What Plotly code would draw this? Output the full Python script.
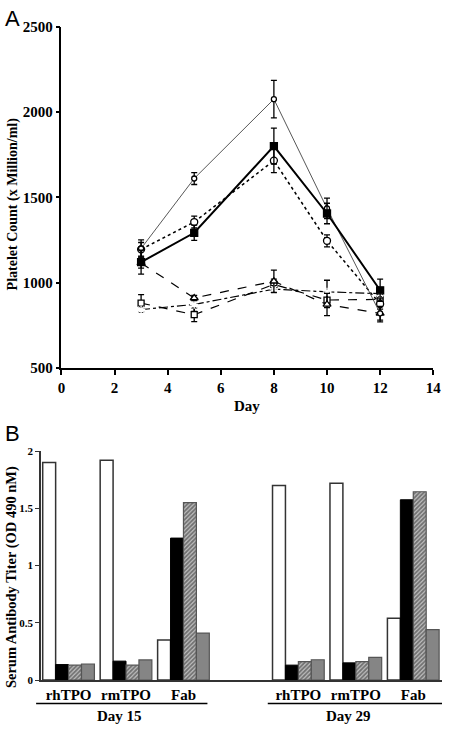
import plotly.graph_objects as go

# ---------------- Panel A data ----------------
days = [3, 5, 8, 10, 12]
s_diamond = [1200, 1610, 2075, 1435, 820]
e_diamond = [50, 35, 110, 60, 40]
s_fsquare = [1120, 1292, 1800, 1405, 955]
e_fsquare = [70, 45, 105, 60, 65]
s_circle = [1195, 1355, 1715, 1245, 875]
e_circle = [40, 35, 70, 35, 30]
s_triangle = [1115, 910, 1008, 872, 820]
e_triangle = [30, 15, 65, 65, 50]
s_osquare = [880, 812, 990, 898, 902]
e_osquare = [50, 40, 30, 45, 30]
s_aster = [842, 872, 962, 946, 935]
e_aster = [15, 40, 20, 68, 20]
x_ticks_a = [0, 2, 4, 6, 8, 10, 12, 14]
y_ticks_a = [500, 1000, 1500, 2000, 2500]

# ---------------- Panel B data ----------------
groups = ["rhTPO", "rmTPO", "Fab", "rhTPO", "rmTPO", "Fab"]
group_pos = [0, 1, 2, 4, 5, 6]
b_white = [1.90, 1.92, 0.35, 1.70, 1.72, 0.54]
b_black = [0.135, 0.165, 1.24, 0.13, 0.15, 1.575]
b_hatched = [0.13, 0.13, 1.55, 0.16, 0.16, 1.645]
b_gray = [0.14, 0.175, 0.41, 0.177, 0.197, 0.44]
y_ticks_b = [0, 0.5, 1, 1.5, 2]
y_ticklabels_b = ["0", "0.5", "1", "1.5", "2"]
day_labels = ["Day 15", "Day 29"]

SERIF = "Liberation Serif"
W, H = 450, 733

fig = go.Figure()

def line_trace(y, err, symbol, size, dash, width, color="black", mfill=None):
    return go.Scatter(
        x=days, y=y, mode="lines+markers",
        line=dict(color=color, width=width, dash=dash),
        marker=dict(symbol=symbol, size=size, color=mfill if mfill else "white",
                    line=dict(color="black", width=1.3)),
        error_y=dict(type="data", array=err, visible=True, color="black",
                     thickness=1.3, width=3),
        showlegend=False, xaxis="x", yaxis="y")

fig.add_trace(line_trace(s_osquare, e_osquare, "square", 6, "dash", 1.2))
fig.add_trace(line_trace(s_aster, e_aster, "asterisk-open", 7, "dashdot", 1.2))
fig.add_trace(line_trace(s_triangle, e_triangle, "triangle-up", 7, "dash", 1.2))
fig.add_trace(line_trace(s_circle, e_circle, "circle", 7, "dot", 1.5))
fig.add_trace(line_trace(s_diamond, e_diamond, "circle", 5, "solid", 0.9, color="#444"))
fig.add_trace(line_trace(s_fsquare, e_fsquare, "square", 7, "solid", 2, mfill="black"))

# Bars
bar_specs = [
    (b_white, dict(color="white", line=dict(color="#333", width=1.5))),
    (b_black, dict(color="black", line=dict(color="black", width=1))),
    (b_hatched, dict(color="#c0c0c0", line=dict(color="#555", width=1.2),
                     pattern=dict(shape="/", fgcolor="#222", bgcolor="#c0c0c0",
                                  size=3, solidity=0.6))),
    (b_gray, dict(color="#858585", line=dict(color="#555", width=1.2))),
]
for vals, mk in bar_specs:
    fig.add_trace(go.Bar(x=group_pos, y=vals, marker=mk, showlegend=False,
                         xaxis="x2", yaxis="y2"))

def px_x(p):
    return p / W

def px_y(p):
    return 1 - p / H

fig.update_layout(
    width=W, height=H, margin=dict(l=0, r=0, t=0, b=0),
    paper_bgcolor="white", plot_bgcolor="white",
    barmode="group", bargap=0.1, bargroupgap=0,
    xaxis=dict(domain=[px_x(59), px_x(441)], range=[0, 14], tickvals=x_ticks_a,
               ticktext=["<b>%d</b>" % t for t in x_ticks_a],
               showline=True, linecolor="black", linewidth=1.5, ticks="outside",
               ticklen=5, tickwidth=1.5, tickcolor="black", showgrid=False, zeroline=False,
               tickfont=dict(family=SERIF, size=15, color="black"),
               ticklabeloverflow="allow",
               anchor="y"),
    yaxis=dict(domain=[px_y(368), px_y(19)], range=[500, 2500], tickvals=y_ticks_a,
               ticktext=["<b>%d</b>" % t for t in y_ticks_a],
               showline=True, linecolor="black", linewidth=1.5, ticks="outside",
               ticklen=4, tickwidth=1.5, tickcolor="black", showgrid=False, zeroline=False,
               tickfont=dict(family=SERIF, size=15, color="black"), anchor="x"),
    xaxis2=dict(domain=[px_x(38), 1.0], range=[-0.48, 6.5], tickvals=group_pos,
                ticktext=["<b>%s</b>" % g for g in groups],
                showline=True, linecolor="#333", linewidth=1.5, ticks="",
                showgrid=False, zeroline=False,
                tickfont=dict(family=SERIF, size=15, color="black"), anchor="y2"),
    yaxis2=dict(domain=[px_y(687), px_y(453)], range=[0, 2], tickvals=y_ticks_b,
                ticktext=["<b>%s</b>" % t for t in y_ticklabels_b],
                showline=True, linecolor="#333", linewidth=1.5, ticks="outside",
                ticklen=4, tickwidth=1.2, tickcolor="#333", showgrid=False, zeroline=False,
                tickfont=dict(family=SERIF, size=11, color="black"), anchor="x2"),
)

annotations = [
    dict(text="A", x=px_x(-1), y=px_y(11), xanchor="left", yanchor="middle",
         font=dict(family="Liberation Sans", size=22, color="black")),
    dict(text="B", x=px_x(-1), y=px_y(435), xanchor="left", yanchor="middle",
         font=dict(family="Liberation Sans", size=22, color="black")),
    dict(text="<b>Platelet Count (x Million/ml)</b>", x=px_x(9), y=px_y(200),
         textangle=-90, xanchor="center", yanchor="middle",
         font=dict(family=SERIF, size=14, color="black")),
    dict(text="<b>Serum Antibody Titer (OD 490 nM)</b>", x=px_x(8), y=px_y(582),
         textangle=-90, xanchor="center", yanchor="middle",
         font=dict(family=SERIF, size=14.5, color="black")),
    dict(text="<b>Day</b>", x=px_x(250), y=px_y(407),
         xanchor="center", yanchor="middle", font=dict(family=SERIF, size=15, color="black")),
    dict(text="<b>%s</b>" % day_labels[0], x=px_x(119), y=px_y(724),
         xanchor="center", yanchor="middle", font=dict(family=SERIF, size=15, color="black")),
    dict(text="<b>%s</b>" % day_labels[1], x=px_x(354), y=px_y(724),
         xanchor="center", yanchor="middle", font=dict(family=SERIF, size=15, color="black")),
]
for a in annotations:
    a.update(xref="paper", yref="paper", showarrow=False)
fig.update_layout(annotations=annotations)

shapes = [
    dict(type="line", x0=px_x(33), x1=px_x(209), y0=px_y(711), y1=px_y(711)),
    dict(type="line", x0=px_x(271), x1=px_x(450), y0=px_y(711), y1=px_y(711)),
]
for s in shapes:
    s.update(xref="paper", yref="paper", line=dict(color="black", width=1.5))
fig.update_layout(shapes=shapes)

fig.write_html("out.html", config={"displayModeBar": False},
               post_script="document.body.style.margin='0';")
